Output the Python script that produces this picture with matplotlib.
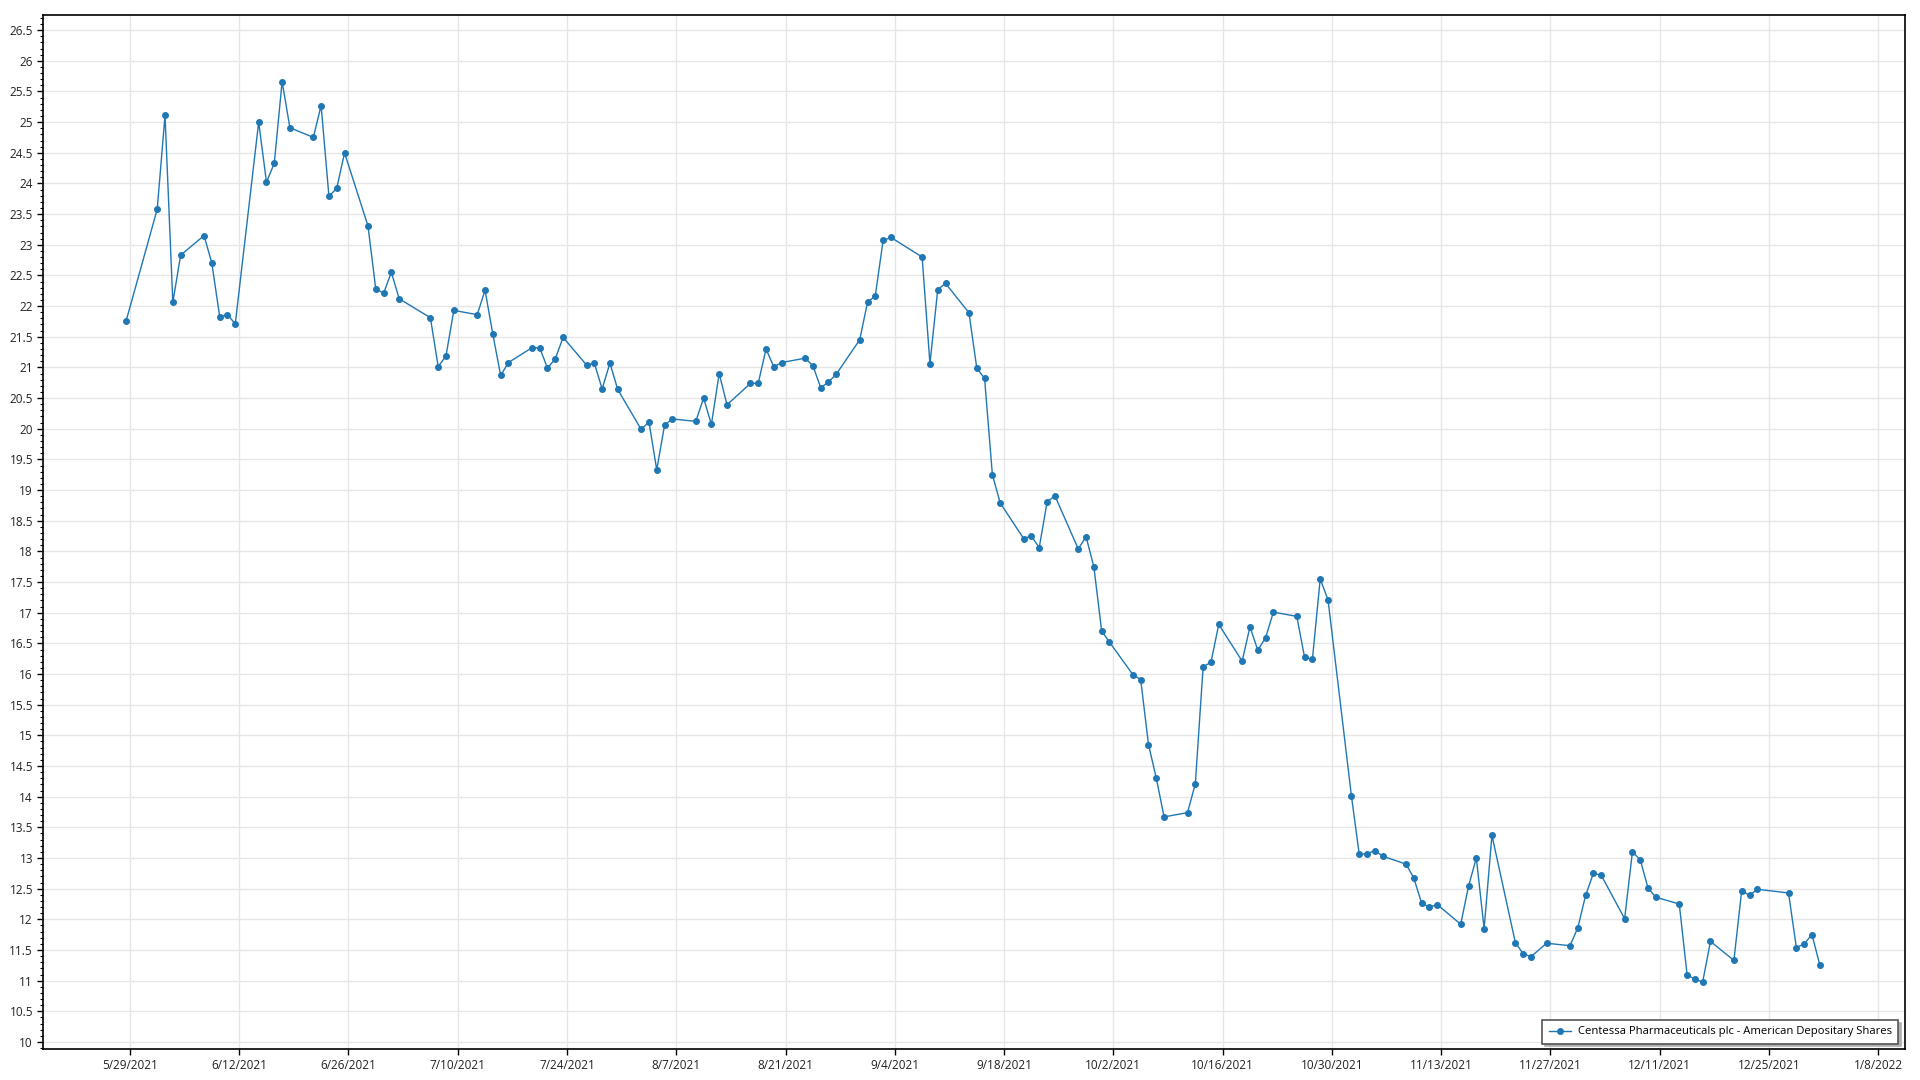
import matplotlib
matplotlib.use("Agg")
import matplotlib.pyplot as plt
import matplotlib.dates as mdates
from matplotlib.ticker import MultipleLocator, FuncFormatter
import pandas as pd

plt.rcParams['font.family'] = ['Open Sans', 'DejaVu Sans']

series_name = "Centessa Pharmaceuticals plc - American Depositary Shares"

holidays = ["2021-05-31", "2021-07-05", "2021-09-06", "2021-11-25", "2021-12-24"]

may_vals = [21.75]
jun_vals = [23.58, 25.11, 22.06, 22.83, 23.15, 22.70, 21.83, 21.86, 21.71, 25.00,
            24.02, 24.33, 25.66, 24.91, 24.75, 25.27, 23.79, 23.92, 24.50, 23.31,
            22.28, 22.21]
jul_vals = [22.55, 22.12, 21.81, 21.01, 21.19, 21.93, 21.86, 22.26, 21.54, 20.87,
            21.08, 21.32, 21.32, 20.99, 21.14, 21.49, 21.04, 21.07, 20.65, 21.07,
            20.64]
aug_vals = [19.99, 20.11, 19.33, 20.06, 20.16, 20.12, 20.50, 20.07, 20.90, 20.39,
            20.74, 20.74, 21.30, 21.01, 21.08, 21.15, 21.03, 20.67, 20.76, 20.89,
            21.45, 22.06]
sep_vals = [22.17, 23.07, 23.12, 22.80, 21.06, 22.27, 22.37, 21.89, 20.99, 20.82,
            19.25, 18.79, 18.21, 18.25, 18.06, 18.80, 18.91, 18.04, 18.24, 17.75,
            16.70]
oct_vals = [16.52, 15.99, 15.91, 14.85, 14.30, 13.67, 13.74, 14.21, 16.12, 16.19,
            16.81, 16.21, 16.77, 16.39, 16.59, 17.01, 16.94, 16.27, 16.24, 17.55,
            17.21]
nov_vals = [14.01, 13.06, 13.07, 13.12, 13.03, 12.90, 12.67, 12.26, 12.20, 12.24,
            11.92, 12.54, 13.00, 11.85, 13.37, 11.62, 11.44, 11.39, 11.61, 11.57,
            11.86]
dec_vals = [12.39, 12.75, 12.72, 12.01, 13.10, 12.97, 12.51, 12.36, 12.25, 11.10,
            11.02, 10.98, 11.64, 11.33, 12.47, 12.39, 12.49, 12.43, 11.54, 11.60,
            11.75, 11.26]

values = may_vals + jun_vals + jul_vals + aug_vals + sep_vals + oct_vals + nov_vals + dec_vals
dates = pd.bdate_range("2021-05-28", "2021-12-31", freq="C", holidays=holidays) + pd.Timedelta(hours=12)
assert len(dates) == len(values)

tick_dates = pd.date_range("2021-05-29", "2022-01-08", freq="14D")

fig = plt.figure(figsize=(19.2, 10.8), dpi=100)
ax = fig.add_axes([0.0222, 0.0284, 0.9698, 0.9576])

ax.plot(dates, values, color="#1f77b4", lw=1.0, marker="o", ms=4.0,
        label=series_name, zorder=3)

ax.set_xlim(pd.Timestamp("2021-05-17 19:40"), pd.Timestamp("2022-01-11 09:00"))
ax.set_ylim(9.88, 26.745)

ax.set_xticks(tick_dates)
ax.xaxis.set_major_formatter(FuncFormatter(
    lambda x, pos: (lambda d: f"{d.month}/{d.day}/{d.year}")(mdates.num2date(x))))
ax.yaxis.set_major_locator(MultipleLocator(0.5))
ax.yaxis.set_minor_locator(MultipleLocator(0.1))
ax.yaxis.set_major_formatter(FuncFormatter(lambda v, pos: f"{v:g}"))

ax.grid(True, which="major", color="#e6e6e6", lw=1.0, zorder=0)
ax.set_axisbelow(True)
ax.tick_params(axis="both", which="major", labelsize=8.5, length=4, width=1,
               color="black", labelcolor="#222222", pad=3)
ax.tick_params(axis="y", which="minor", length=2, width=0.8, color="black")
for s in ax.spines.values():
    s.set_color("black")
    s.set_linewidth(1.2)

leg = ax.legend(loc="lower right", bbox_to_anchor=(0.9965, 0.0055), fontsize=8.1,
                frameon=True, fancybox=False, shadow={'color': '#b0b0b0', 'alpha': 1},
                borderpad=0.55, handlelength=2.0, handletextpad=0.6, borderaxespad=0)
leg.get_frame().set_edgecolor("#555555")
leg.get_frame().set_linewidth(1.2)

fig.savefig("out.png", dpi=100, facecolor="white")
